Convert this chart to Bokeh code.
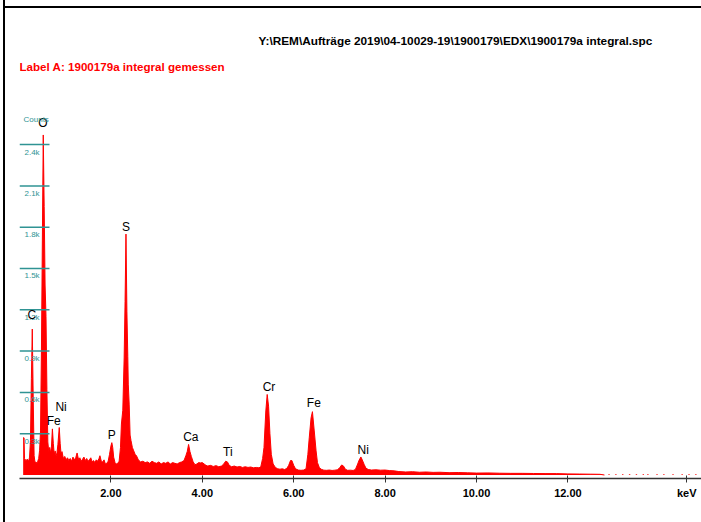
from bokeh.plotting import figure
from bokeh.models import Range1d, FixedTicker, PrintfTickFormatter, Label, Span, InlineStyleSheet
from bokeh.core.properties import value
from bokeh.embed import file_html
from bokeh.resources import INLINE

# ---- spectrum (keV, counts) ----
energy = [0.08, 0.10, 0.11, 0.14, 0.17, 0.20, 0.22, 0.24, 0.26, 0.28, 0.30, 0.32, 0.34, 0.36, 0.38,
          0.40, 0.42, 0.44, 0.46, 0.48, 0.50, 0.52, 0.54, 0.56, 0.58, 0.60, 0.62, 0.64, 0.66, 0.68,
          0.70, 0.72, 0.74, 0.76, 0.78, 0.80, 0.82, 0.84, 0.87, 0.89, 0.91, 0.93, 0.96, 0.99, 1.02,
          1.05, 1.08, 1.11, 1.14, 1.17, 1.20, 1.23, 1.26, 1.29, 1.32, 1.35, 1.38, 1.41, 1.44, 1.47,
          1.50, 1.53, 1.56, 1.59, 1.62, 1.65, 1.68, 1.71, 1.74, 1.76, 1.79, 1.82, 1.85, 1.88, 1.91,
          1.94, 1.97, 2.00, 2.02, 2.04, 2.06, 2.09, 2.12, 2.15, 2.18, 2.21, 2.23, 2.26, 2.29, 2.31,
          2.33, 2.35, 2.37, 2.38, 2.40, 2.42, 2.44, 2.47, 2.50, 2.53, 2.56, 2.60, 2.65, 2.70, 2.75,
          2.80, 2.85, 2.90, 2.95, 3.00, 3.05, 3.10, 3.15, 3.20, 3.25, 3.30, 3.35, 3.40, 3.45, 3.50,
          3.55, 3.60, 3.64, 3.67, 3.70, 3.73, 3.76, 3.80, 3.84, 3.88, 3.92, 3.96, 4.00, 4.04, 4.08,
          4.12, 4.18, 4.24, 4.30, 4.36, 4.42, 4.47, 4.51, 4.55, 4.59, 4.64, 4.70, 4.76, 4.82, 4.88,
          4.94, 5.00, 5.06, 5.12, 5.18, 5.24, 5.28, 5.32, 5.35, 5.39, 5.42, 5.45, 5.48, 5.51, 5.55,
          5.60, 5.65, 5.70, 5.75, 5.80, 5.85, 5.89, 5.93, 5.96, 6.00, 6.04, 6.10, 6.16, 6.22, 6.27,
          6.31, 6.34, 6.38, 6.41, 6.45, 6.49, 6.52, 6.56, 6.60, 6.66, 6.72, 6.78, 6.84, 6.90, 6.96,
          7.01, 7.05, 7.09, 7.13, 7.18, 7.24, 7.30, 7.35, 7.40, 7.43, 7.47, 7.50, 7.54, 7.58, 7.63,
          7.70, 7.80, 7.90, 8.00, 8.10, 8.20, 8.30, 8.45, 8.60, 8.75, 8.90, 9.05, 9.20, 9.40, 9.60,
          9.80, 10.00, 10.25, 10.50, 10.75, 11.00, 11.25, 11.50, 11.75, 12.00, 12.25, 12.50, 12.70, 12.80]
counts = [270, 270, 120, 105, 115, 100, 130, 250, 700, 1060, 560, 140, 90, 95, 85,
          100, 120, 180, 320, 900, 1700, 2470, 1950, 1380, 1150, 620, 240, 170, 200, 160,
          210, 335, 230, 150, 175, 140, 160, 220, 345, 230, 150, 170, 120, 135, 110,
          125, 105, 120, 100, 130, 110, 125, 160, 115, 125, 100, 115, 130, 105, 120,
          100, 110, 125, 95, 105, 90, 110, 100, 120, 140, 100, 95, 110, 80, 85,
          100, 150, 210, 235, 200, 130, 90, 80, 85, 100, 200, 370, 470, 850, 1260,
          1750, 1190, 860, 660, 515, 290, 250, 200, 175, 150, 140, 110, 95, 100, 90,
          95, 85, 100, 90, 85, 95, 80, 90, 85, 95, 80, 90, 85, 80, 90,
          95, 105, 140, 170, 222, 170, 135, 95, 75, 80, 90, 88, 90, 80, 70,
          65, 70, 62, 68, 60, 65, 80, 100, 95, 70, 60, 65, 58, 62, 55,
          60, 55, 58, 52, 55, 52, 60, 120, 200, 465, 585, 500, 300, 150, 80,
          55, 45, 42, 45, 40, 48, 70, 105, 105, 70, 45, 36, 34, 36, 45,
          150, 270, 415, 460, 320, 175, 90, 55, 42, 35, 34, 36, 33, 35, 38,
          55, 73, 65, 42, 34, 35, 33, 40, 80, 107, 131, 110, 78, 50, 40,
          36, 38, 35, 36, 32, 30, 25, 22, 24, 20, 22, 19, 20, 17, 18,
          16, 14, 15, 13, 12, 12, 11, 10, 10, 8, 7, 6, 5, 0]
tail_energy = [12.9, 13.05, 13.2, 13.35, 13.5, 13.65, 13.75, 13.95, 14.1, 14.3, 14.5, 14.65, 14.8]
tail_counts = [6, 5, 6, 5, 6, 5, 6, 5, 5, 6, 5, 5, 6]

# ---- peak labels ----
peak_names = ["O", "C", "S", "Ni", "Fe", "P", "Ca", "Ti", "Cr", "Fe", "Ni"]
peak_energy = [0.51, 0.27, 2.33, 0.91, 0.75, 2.02, 3.75, 4.56, 5.46, 6.44, 7.52]
peak_label_y = [2556, 1162, 1801, 494, 392, 290, 276, 167, 639, 523, 182]

# ---- axis ticks ----
x_ticks = [2, 4, 6, 8, 10, 12]
x_unit_pos = 14.6
x_unit = "keV"
y_ticks = [300, 600, 900, 1200, 1500, 1800, 2100, 2400]
y_tick_labels = ["0.3k", "0.6k", "0.9k", "1.2k", "1.5k", "1.8k", "2.1k", "2.4k"]

path_text = "Y:\\REM\\Aufträge 2019\\04-10029-19\\1900179\\EDX\\1900179a integral.spc"
label_text = "Label A: 1900179a integral gemessen"

# layout helpers (reference pixel -> data coordinate, used only to place texts)
PX_PER_KEV = 45.7
PX_PER_COUNT = 0.13767
LEFT, TOP, BOTTOM = 19, 8, 44
W, H = 701, 522
def kx(px):
    return (px - LEFT) / PX_PER_KEV
def cy(py):
    return (474.5 - py) / PX_PER_COUNT

border_css = InlineStyleSheet(css="""
:host::before {content:''; position:absolute; left:3px; top:0px; width:2px; height:522px; background:#000; z-index:50;}
:host::after {content:''; position:absolute; left:3px; top:6px; width:698px; height:2px; background:#000; z-index:50;}
""")

p = figure(width=W, height=H, output_backend="svg", toolbar_location=None,
           x_range=Range1d(0, (W - LEFT) / PX_PER_KEV),
           y_range=Range1d(cy(H - BOTTOM), cy(TOP)),
           min_border_left=LEFT, min_border_right=0, min_border_top=TOP, min_border_bottom=BOTTOM,
           y_axis_location=None, stylesheets=[border_css])
p.outline_line_color = None
p.grid.visible = False
p.background_fill_color = "white"
p.border_fill_color = "white"

# spectrum
p.varea(x=energy, y1=[0] * len(energy), y2=counts, fill_color="#ff0000")
p.line(x=energy, y=counts, line_color="#ff0000", line_width=1)
p.vbar(x=tail_energy, top=tail_counts, bottom=0, width=0.03, fill_color="#ff0000", line_color=None)

# pseudo y ticks
teal = "#2f9393"
p.segment(x0=[0] * len(y_ticks), x1=[kx(49)] * len(y_ticks), y0=y_ticks, y1=y_ticks,
          line_color=teal, line_width=1.5)
p.text(x=[kx(24)] * len(y_ticks), y=y_ticks, text=y_tick_labels, text_color=teal,
       text_font=value("Liberation Sans"), text_font_size="8px", text_baseline="top",
       text_align="left", y_offset=3)
p.add_layout(Label(x=kx(23), y=cy(119), text="Counts", text_color=teal,
                   text_font="Liberation Sans", text_font_size="8px",
                   text_baseline="middle", text_align="left"))

# peak labels
p.text(x=peak_energy, y=peak_label_y, text=peak_names, text_color="black",
       text_font=value("Liberation Sans"), text_font_size="12px",
       text_align="center", text_baseline="middle")

# header texts
p.add_layout(Label(x=kx(258), y=cy(40), text=path_text, text_color="black",
                   text_font="Liberation Sans", text_font_size="11.8px", text_font_style="bold",
                   text_baseline="middle", text_align="left"))
p.add_layout(Label(x=kx(19), y=cy(66), text=label_text, text_color="#ff0000",
                   text_font="Liberation Sans", text_font_size="11.6px", text_font_style="bold",
                   text_baseline="middle", text_align="left"))

# x axis
ax = p.xaxis[0]
ax.ticker = FixedTicker(ticks=x_ticks + [x_unit_pos])
ax.formatter = PrintfTickFormatter(format="%.2f")
ax.major_label_overrides = {x_unit_pos: x_unit}
ax.minor_tick_line_color = None
ax.major_tick_in = 3
ax.major_tick_out = 4
ax.major_tick_line_color = "#333333"
ax.axis_line_color = "#333333"
ax.axis_line_width = 1.5
ax.major_label_standoff = 4
ax.major_label_text_font = "Liberation Sans"
ax.major_label_text_font_style = "bold"
ax.major_label_text_font_size = "11px"
ax.major_label_text_color = "black"

open("out.html", "w").write(file_html(p, INLINE))
